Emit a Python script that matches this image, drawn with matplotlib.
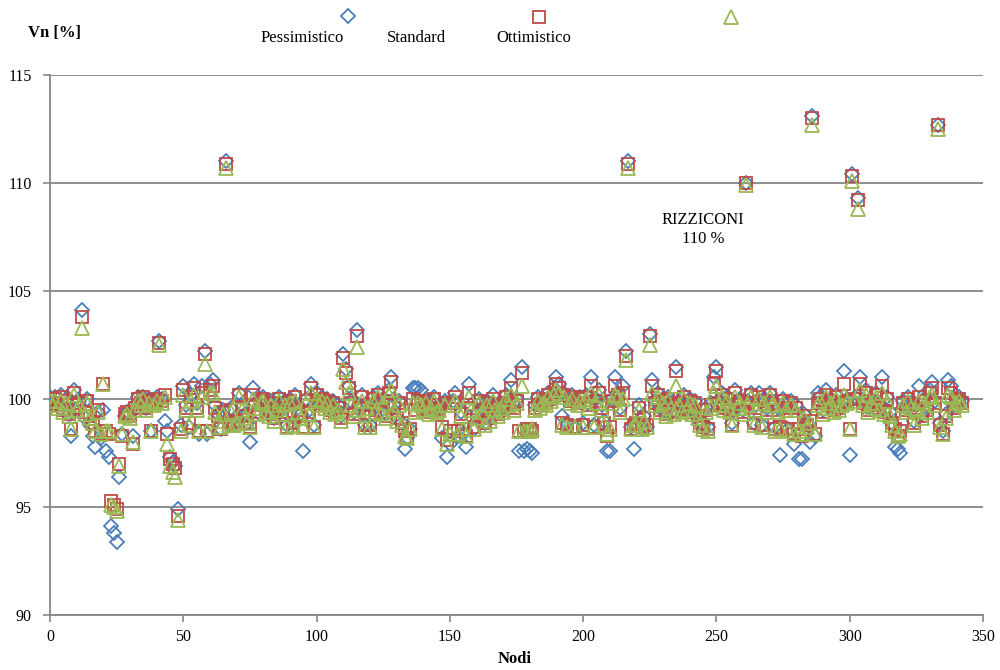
import matplotlib
matplotlib.use("Agg")
import matplotlib.pyplot as plt
from matplotlib.lines import Line2D

plt.rcParams['font.family'] = ['Liberation Serif', 'DejaVu Serif']

# ---------------- data ----------------
pessimistico = [
    100.1, 99.8, 100.1, 99.7, 100.2, 99.5, 100.0, 99.3, 98.3, 100.4,
    99.5, 99.9, 104.1, 99.1, 100.0, 98.8, 98.3, 97.8, 99.4, 98.2,
    99.5, 97.6, 97.3, 94.1, 93.8, 93.4, 96.4, 98.4, 99.2, 99.4,
    99.3, 98.3, 99.7, 100.1, 99.8, 100.1, 99.6, 100.0, 98.5, 99.9,
    100.1, 102.7, 100.0, 99.0, 98.5, 97.3, 97.1, 96.9, 94.9, 98.8,
    100.6, 99.7, 98.7, 100.2, 100.7, 99.8, 98.4, 100.6, 102.2, 98.4,
    100.7, 100.9, 99.7, 99.3, 98.6, 99.5, 111.0, 98.9, 99.6, 98.8,
    99.0, 100.3, 99.7, 99.3, 98.9, 98.0, 100.5, 99.8, 99.4, 100.0,
    100.1, 99.6, 99.4, 99.9, 99.1, 99.7, 100.1, 99.5, 99.9, 98.8,
    100.0, 98.9, 100.2, 99.6, 99.3, 97.6, 100.0, 99.5, 100.7, 98.8,
    100.3, 99.9, 100.1, 99.8, 100.0, 99.6, 99.9, 99.5, 99.7, 99.2,
    102.1, 101.4, 100.6, 99.9, 99.4, 103.2, 99.7, 100.2, 98.8, 99.8,
    98.8, 100.1, 99.6, 100.3, 99.5, 100.0, 99.3, 100.4, 101.0, 99.7,
    99.1, 99.9, 98.9, 97.7, 98.2, 98.6, 100.5, 100.5, 100.5, 100.4,
    99.6, 100.0, 99.5, 99.8, 100.1, 99.6, 99.7, 98.2, 99.9, 97.3,
    97.9, 99.9, 100.3, 98.3, 99.4, 98.4, 97.8, 100.7, 99.7, 98.6,
    99.3, 100.0, 99.6, 98.9, 99.9, 99.2, 100.2, 99.7, 99.4, 99.8,
    99.6, 100.2, 99.9, 100.9, 99.7, 100.0, 97.6, 101.5, 97.6, 97.7,
    97.6, 97.5, 99.7, 100.1, 99.8, 100.0, 99.9, 100.3, 100.1, 100.5,
    101.0, 100.7, 99.2, 100.3, 98.9, 100.0, 100.2, 98.7, 99.9, 100.1,
    98.9, 100.2, 99.8, 101.0, 98.8, 100.0, 100.4, 99.7, 99.0, 97.6,
    97.6, 100.0, 101.0, 100.3, 99.6, 100.6, 102.2, 111.0, 98.7, 97.7,
    98.9, 99.7, 98.6, 99.2, 98.7, 103.0, 100.9, 99.9, 100.3, 99.6,
    100.0, 99.4, 100.1, 99.8, 99.5, 101.5, 99.9, 99.6, 100.2, 99.7,
    100.0, 99.5, 99.9, 99.3, 99.0, 98.8, 99.6, 98.7, 99.8, 101.0,
    101.5, 99.9, 100.3, 99.7, 100.1, 99.6, 98.9, 100.4, 99.8, 100.0,
    99.5, 110.0, 99.9, 100.3, 98.9, 99.7, 100.3, 98.8, 100.0, 99.6,
    100.3, 99.9, 98.7, 99.6, 97.4, 100.0, 99.7, 98.6, 99.9, 97.9,
    99.7, 97.2, 97.2, 99.3, 98.9, 98.0, 113.1, 98.3, 100.3, 100.1,
    99.5, 100.4, 99.8, 100.0, 99.6, 100.2, 99.7, 99.9, 101.3, 100.0,
    97.4, 110.4, 100.1, 109.3, 101.0, 99.9, 100.4, 99.6, 100.0, 99.8,
    100.3, 99.7, 101.0, 99.5, 100.1, 99.4, 98.9, 97.8, 97.7, 97.5,
    99.9, 99.6, 100.1, 99.8, 99.0, 99.7, 100.6, 99.3, 100.0, 99.6,
    100.4, 100.8, 99.9, 112.7, 98.9, 98.5, 99.3, 100.9, 100.6, 99.7,
    100.0, 100.1, 99.9,
]

standard = [
    100.0, 99.8, 100.0, 99.7, 100.1, 99.5, 99.9, 99.3, 98.6, 100.3,
    99.6, 99.8, 103.8, 99.4, 99.9, 99.2, 98.9, 98.5, 99.5, 98.4,
    100.7, 98.5, 98.4, 95.3, 95.1, 94.9, 97.0, 98.3, 99.3, 99.4,
    99.2, 97.9, 99.6, 100.0, 99.8, 100.1, 99.6, 99.9, 98.5, 99.8,
    100.0, 102.6, 99.9, 100.2, 98.4, 97.2, 97.0, 96.8, 94.6, 98.6,
    100.4, 99.6, 98.9, 100.1, 100.5, 99.6, 98.5, 100.3, 102.1, 98.5,
    100.4, 100.6, 99.6, 99.2, 98.6, 99.4, 110.9, 98.9, 99.5, 98.8,
    99.0, 100.2, 99.6, 99.2, 98.9, 98.7, 100.2, 99.7, 99.4, 99.9,
    100.0, 99.5, 99.3, 99.8, 99.1, 99.6, 100.0, 99.4, 99.8, 98.7,
    99.9, 98.9, 100.1, 99.5, 99.2, 98.7, 99.9, 99.4, 100.5, 98.7,
    100.2, 99.8, 100.0, 99.7, 99.9, 99.5, 99.8, 99.4, 99.6, 99.1,
    101.9, 101.2, 100.5, 99.8, 99.3, 102.9, 99.6, 100.1, 98.8, 99.7,
    98.8, 100.0, 99.5, 100.2, 99.4, 99.9, 99.2, 100.3, 100.8, 99.6,
    99.1, 99.8, 98.9, 98.5, 98.2, 98.6, 100.0, 99.5, 99.9, 99.8,
    99.6, 99.9, 99.4, 99.7, 100.0, 99.5, 99.6, 98.7, 99.8, 98.1,
    98.5, 99.8, 100.1, 98.5, 99.3, 98.6, 98.3, 100.3, 99.6, 98.7,
    99.2, 99.9, 99.5, 98.9, 99.8, 99.1, 100.0, 99.6, 99.3, 99.7,
    99.5, 100.1, 99.8, 100.5, 99.6, 99.9, 98.5, 101.2, 98.5, 98.6,
    98.6, 98.5, 99.6, 100.0, 99.7, 99.9, 99.8, 100.2, 100.0, 100.3,
    100.7, 100.5, 98.9, 100.2, 98.8, 99.9, 100.1, 98.7, 99.8, 100.0,
    98.8, 100.1, 99.7, 100.6, 98.7, 99.9, 100.3, 99.6, 98.9, 98.3,
    98.7, 99.9, 100.6, 100.2, 99.5, 100.3, 102.0, 110.9, 98.6, 98.8,
    98.9, 99.6, 98.7, 99.1, 98.8, 102.9, 100.6, 99.8, 100.2, 99.5,
    99.9, 99.3, 100.0, 99.7, 99.4, 101.3, 99.8, 99.5, 100.1, 99.6,
    99.9, 99.4, 99.8, 99.2, 98.9, 98.7, 99.5, 98.6, 99.7, 100.7,
    101.3, 99.8, 100.2, 99.6, 100.0, 99.5, 98.8, 100.3, 99.7, 99.9,
    99.4, 110.0, 99.8, 100.2, 98.9, 99.6, 100.1, 98.8, 99.9, 99.5,
    100.2, 99.8, 98.6, 99.5, 98.7, 99.9, 99.6, 98.6, 99.8, 98.4,
    99.6, 98.6, 98.3, 99.2, 98.8, 99.0, 113.0, 98.4, 99.8, 100.0,
    99.4, 100.2, 99.7, 99.9, 99.5, 100.1, 99.6, 99.8, 100.7, 99.9,
    98.6, 110.3, 100.0, 109.2, 100.7, 99.8, 100.3, 99.5, 99.9, 99.7,
    100.2, 99.6, 100.6, 99.4, 100.0, 99.3, 98.9, 98.6, 98.3, 98.5,
    99.8, 99.5, 100.0, 99.7, 98.9, 99.6, 100.1, 99.2, 99.9, 99.5,
    100.3, 100.5, 99.8, 112.7, 98.8, 98.4, 99.2, 100.5, 100.3, 99.6,
    99.9, 100.0, 99.8,
]

ottimistico = [
    99.9, 99.7, 99.9, 99.6, 99.9, 99.4, 99.8, 99.2, 98.6, 100.2,
    99.5, 99.7, 103.3, 99.3, 99.8, 99.1, 98.9, 98.5, 99.4, 98.4,
    100.7, 98.5, 98.5, 95.1, 95.0, 94.8, 96.9, 98.4, 99.2, 99.3,
    99.1, 98.0, 99.5, 99.9, 99.7, 100.0, 99.5, 99.8, 98.5, 99.7,
    99.9, 102.5, 99.8, 100.1, 97.9, 96.9, 96.6, 96.4, 94.4, 98.5,
    100.2, 99.5, 98.8, 99.9, 100.2, 99.5, 98.5, 100.1, 101.6, 98.5,
    100.3, 100.3, 99.4, 99.0, 98.7, 99.3, 110.7, 98.8, 99.4, 98.8,
    98.9, 100.1, 99.5, 99.1, 98.9, 98.7, 100.0, 99.6, 99.3, 99.8,
    99.9, 99.4, 99.2, 99.7, 99.0, 99.5, 99.9, 99.3, 99.7, 98.7,
    99.8, 98.8, 99.9, 99.4, 99.1, 98.7, 99.8, 99.3, 100.3, 98.7,
    100.0, 99.7, 99.9, 99.6, 99.8, 99.4, 99.7, 99.3, 99.5, 99.0,
    101.4, 100.8, 100.3, 99.7, 99.2, 102.4, 99.5, 99.9, 98.7, 99.6,
    98.7, 99.9, 99.4, 100.1, 99.3, 99.8, 99.1, 100.2, 100.4, 99.5,
    99.0, 99.7, 98.8, 98.3, 98.2, 98.6, 99.8, 99.4, 99.8, 99.7,
    99.5, 99.8, 99.3, 99.6, 99.9, 99.4, 99.5, 98.6, 99.7, 97.9,
    98.4, 99.7, 99.9, 98.4, 99.2, 98.6, 98.3, 100.1, 99.5, 98.6,
    99.1, 99.8, 99.4, 98.8, 99.7, 99.0, 99.9, 99.5, 99.2, 99.6,
    99.4, 100.0, 99.7, 100.2, 99.5, 99.8, 98.5, 100.6, 98.5, 98.5,
    98.5, 98.6, 99.5, 99.9, 99.6, 99.8, 99.7, 100.1, 99.9, 100.2,
    100.4, 100.3, 98.8, 100.1, 98.7, 99.8, 100.0, 98.7, 99.7, 99.9,
    98.7, 100.0, 99.6, 100.3, 98.7, 99.8, 100.2, 99.5, 98.8, 98.4,
    98.6, 99.8, 100.2, 100.1, 99.4, 100.0, 101.8, 110.7, 98.6, 98.8,
    98.8, 99.5, 98.6, 99.0, 98.7, 102.5, 100.3, 99.7, 100.1, 99.4,
    99.8, 99.2, 99.9, 99.6, 99.3, 100.6, 99.7, 99.4, 100.0, 99.5,
    99.8, 99.3, 99.7, 99.1, 98.8, 98.6, 99.4, 98.5, 99.6, 100.3,
    100.6, 99.7, 100.1, 99.5, 99.9, 99.4, 98.8, 100.1, 99.6, 99.8,
    99.3, 109.9, 99.7, 100.1, 98.8, 99.5, 100.0, 98.7, 99.8, 99.4,
    100.1, 99.7, 98.5, 99.4, 98.6, 99.8, 99.5, 98.5, 99.7, 98.4,
    99.5, 98.5, 98.4, 99.1, 98.7, 98.9, 112.7, 98.4, 99.7, 99.9,
    99.3, 100.1, 99.6, 99.8, 99.4, 100.0, 99.5, 99.7, 100.2, 99.8,
    98.6, 110.1, 99.9, 108.8, 100.4, 99.7, 100.2, 99.4, 99.8, 99.6,
    100.1, 99.5, 100.3, 99.3, 99.9, 99.2, 98.8, 98.5, 98.3, 98.4,
    99.7, 99.4, 99.9, 99.6, 98.8, 99.5, 99.9, 99.1, 99.8, 99.4,
    100.1, 100.2, 99.7, 112.5, 98.7, 98.4, 99.1, 100.2, 100.1, 99.5,
    99.8, 99.9, 99.7,
]

nodi = list(range(len(standard)))
series_labels = ["Pessimistico", "Standard", "Ottimistico"]
x_ticks = [0, 50, 100, 150, 200, 250, 300, 350]
y_ticks = [90, 95, 100, 105, 110, 115]

# ---------------- style ----------------
c_blue = "#4A7EBB"
c_red = "#BE4B48"
c_green = "#98B954"
grid_c = "#868686"

ms_d, ms_s, ms_t = 6.9, 9.3, 9.8

fig = plt.figure(figsize=(10, 6.7), dpi=100)
ax = fig.add_axes([0.05, 0.0821, 0.933, 0.806])

ax.plot(nodi, pessimistico, linestyle="none", marker="D", ms=ms_d,
        mfc="none", mec=c_blue, mew=1.3, zorder=3)
ax.plot(nodi, standard, linestyle="none", marker="s", ms=ms_s,
        mfc="none", mec=c_red, mew=1.3, zorder=4)
ax.plot(nodi, ottimistico, linestyle="none", marker="^", ms=ms_t,
        mfc="none", mec=c_green, mew=1.3, zorder=5)

ax.set_xlim(0, 350)
ax.set_ylim(90, 115)
ax.set_xticks(x_ticks)
ax.set_yticks(y_ticks)
ax.yaxis.grid(True, color=grid_c, linewidth=1.3)
ax.set_axisbelow(True)
for s in ["top", "right"]:
    ax.spines[s].set_visible(False)
for s in ["left", "bottom"]:
    ax.spines[s].set_color(grid_c)
    ax.spines[s].set_linewidth(1.3)
ax.tick_params(axis="both", direction="out", length=5, width=1.2,
               color=grid_c, labelsize=11.5)
ax.tick_params(axis="y", pad=8)
ax.tick_params(axis="x", pad=5)

ax.text(244.9, 107.85, "RIZZICONI\n110 %", ha="center", va="center",
        fontsize=12, linespacing=1.3)

fig.text(0.028, 0.951, "Vn [%]", fontsize=12, fontweight="bold",
         ha="left", va="center")
fig.text(0.515, 0.016, "Nodi", fontsize=12, fontweight="bold",
         ha="center", va="center")

# legend (custom layout like the reference)
W, H = 1000.0, 670.0
leg_markers = [("D", ms_d, c_blue, 348, 16), ("s", ms_s, c_red, 539, 17),
               ("^", ms_t, c_green, 731, 17)]
for m, ms, c, px, py in leg_markers:
    fig.add_artist(Line2D([px / W], [1 - py / H], transform=fig.transFigure,
                          marker=m, ms=ms, mfc="none", mec=c, mew=1.3,
                          linestyle="none"))
for lab, px in zip(series_labels, [302, 416, 534]):
    fig.text(px / W, 1 - 38 / H, lab, fontsize=12, ha="center", va="center")

fig.savefig("out.png", dpi=100)
